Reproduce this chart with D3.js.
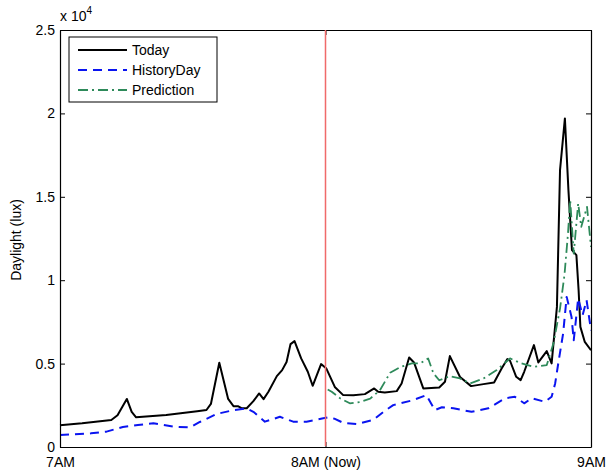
<!DOCTYPE html>
<html>
<head>
<meta charset="utf-8">
<script src="https://cdn.jsdelivr.net/npm/d3@7"></script>
<style>
  body { margin: 0; background: #fff; }
  svg { display: block; font-family: "Liberation Sans", Arial, sans-serif; }
</style>
</head>
<body>
<svg id="chart" width="608" height="472"></svg>
<script>
// minutes after 7AM, lux
const todayPts = [
    [0, 1300], [5, 1420], [11.6, 1620], [13, 1900], [15.1, 2880], [16.2, 2100], [17.2, 1780],
    [24, 1920], [31, 2150], [33.1, 2220], [34.1, 2580], [36, 5050], [38, 2880], [39.2, 2450],
    [40.2, 2450], [41.1, 2320], [42.2, 2320], [43.7, 2750], [45, 3210], [46, 2870], [47.1, 3310],
    [49, 4250], [50.2, 4610], [51.2, 5100], [52.1, 6170], [53, 6350], [54.5, 5310], [56, 4510],
    [57.1, 3670], [59, 4970], [60.2, 4700], [62.1, 3600], [64, 3110], [66.3, 3100], [68.9, 3170],
    [71, 3510], [71.9, 3310], [73.4, 3270], [76.1, 3350], [77.2, 3810], [78.9, 5370], [80, 5070],
    [82.1, 3510], [85.7, 3570], [87, 3910], [88.1, 5450], [90.4, 4200], [92.9, 3650], [95.7, 3770],
    [98.1, 3870], [99.8, 4710], [101.1, 5270], [101.7, 5170], [103.1, 4210], [104.1, 4010],
    [104.9, 4510], [107.1, 6110], [108.1, 5070], [110, 5750], [111.1, 5010], [112.3, 8400],
    [113, 16600], [114.1, 19700], [114.9, 15400], [115.7, 11800], [116.7, 11500], [117.2, 9400],
    [117.6, 7200], [118.6, 6300], [120, 5800]
];

const historyPts = [
    [0, 720], [7, 820], [10.5, 920], [14.2, 1200], [17.6, 1320], [21.1, 1420], [25.6, 1220],
    [29.4, 1170], [31.6, 1500], [35.4, 1980], [39.2, 2210], [42.2, 2320], [43.7, 2110], [46.3, 1520],
    [49.7, 1810], [52.7, 1520], [55.7, 1520], [59.5, 1720], [60.6, 1780], [62, 1700], [64, 1450],
    [67, 1380], [70.8, 1620], [73.1, 2110], [75.3, 2510], [79.8, 2810], [82.8, 3110], [84.7, 2210],
    [86.3, 2380], [88.9, 2320], [93, 2110], [96.8, 2320], [100.6, 2920], [102.8, 3010], [104.9, 2620],
    [106.6, 2920], [109.6, 2710], [111.1, 3010], [111.9, 3810], [112.6, 5010], [113.7, 6800],
    [114.5, 9000], [115.6, 7800], [116.1, 6400], [117.1, 8900], [118.1, 7900], [119, 8800], [120, 7000]
];

const predictionPts = [
    [60.5, 3450], [61.4, 3310], [63.3, 2920], [65.5, 2620], [67.8, 2700], [70.1, 2900], [72.3, 3400],
    [74.6, 4450], [77, 4800], [79.5, 5010], [81.4, 5010], [83.2, 5310], [84.4, 4410], [85.7, 4000],
    [88.1, 4250], [90.4, 4110], [92.7, 3810], [95.7, 4110], [98.7, 4610], [101.7, 5310], [104.3, 5010],
    [107, 4810], [110, 4910], [111.5, 6200], [113, 8300], [114, 10300], [114.8, 12800], [115.3, 14800],
    [116.1, 11600], [117.1, 14600], [117.8, 13200], [119.1, 14400], [120, 12000]
];

const xTicks = [0, 60, 120];
const xTickLabels = ["7AM", "8AM (Now)", "9AM"];
const yTicks = [0, 5000, 10000, 15000, 20000, 25000];
const yTickLabels = ["0", "0.5", "1", "1.5", "2", "2.5"];
const nowMinute = 60;
const seriesNames = ["Today", "HistoryDay", "Prediction"];

const svg = d3.select("#chart");
const margin = { top: 30, right: 17, bottom: 25, left: 60 };
const width = 608 - margin.left - margin.right;
const height = 472 - margin.top - margin.bottom;

const g = svg.append("g").attr("transform", `translate(${margin.left},${margin.top})`);

const x = d3.scaleLinear().domain([0, 120]).range([0, width]);
const y = d3.scaleLinear().domain([0, 25000]).range([height, 0]);

const styles = [
    { color: "#000000", dash: null, w: 2 },
    { color: "#0a14f0", dash: "9,6", w: 2 },
    { color: "#2e8a5a", dash: "10,4,2,4", w: 1.8 }
];

const line = d3.line().x(d => x(d[0])).y(d => y(d[1]));

[todayPts, historyPts, predictionPts].forEach((pts, i) => {
    g.append("path")
        .datum(pts)
        .attr("fill", "none")
        .attr("stroke", styles[i].color)
        .attr("stroke-width", styles[i].w)
        .attr("stroke-dasharray", styles[i].dash)
        .attr("stroke-linejoin", "round")
        .attr("d", line);
});

// === Axes (MATLAB style box, ticks inward) ===
const fmtY = d => yTickLabels[yTicks.indexOf(d)];
const fmtX = d => xTickLabels[xTicks.indexOf(d)];

const yAxis = g.append("g")
    .call(d3.axisLeft(y).tickValues(yTicks).tickFormat(fmtY).tickSizeInner(-5).tickSizeOuter(0).tickPadding(5));
const yAxisR = g.append("g").attr("transform", `translate(${width},0)`)
    .call(d3.axisRight(y).tickValues(yTicks).tickFormat("").tickSizeInner(-5).tickSizeOuter(0));
const xAxis = g.append("g").attr("transform", `translate(0,${height})`)
    .call(d3.axisBottom(x).tickValues(xTicks).tickFormat(fmtX).tickSizeInner(-5).tickSizeOuter(0).tickPadding(10));
const xAxisT = g.append("g")
    .call(d3.axisTop(x).tickValues(xTicks).tickFormat("").tickSizeInner(-5).tickSizeOuter(0));

[yAxis, yAxisR, xAxis, xAxisT].forEach(a => {
    a.selectAll(".domain").attr("stroke", "#000").attr("stroke-width", 1.2);
    a.selectAll(".tick line").attr("stroke", "#000");
    a.selectAll("text")
        .attr("fill", "#000")
        .style("font-size", "14px")
        .style("font-family", "'Liberation Sans', Arial, sans-serif");
});

// now marker, drawn over the top tick like the original
g.append("line")
    .attr("x1", x(nowMinute)).attr("x2", x(nowMinute))
    .attr("y1", 0).attr("y2", height - 1)
    .attr("stroke", "#f06a6a")
    .attr("stroke-width", 1.5);

// exponent label
const expo = svg.append("text")
    .attr("x", 60).attr("y", 21)
    .style("font-size", "14px")
    .attr("fill", "#000");
expo.append("tspan").text("x 10");
expo.append("tspan").attr("dy", -7).style("font-size", "10px").text("4");

// y label
svg.append("text")
    .attr("transform", "translate(21,240) rotate(-90)")
    .attr("text-anchor", "middle")
    .style("font-size", "14px")
    .attr("fill", "#000")
    .text("Daylight (lux)");

// === Legend ===
const leg = svg.append("g").attr("transform", "translate(69,37)");
leg.append("rect")
    .attr("width", 148).attr("height", 65)
    .attr("fill", "#fff")
    .attr("stroke", "#000")
    .attr("stroke-width", 1);

seriesNames.forEach((name, i) => {
    const yy = 13 + i * 20;
    leg.append("line")
        .attr("x1", 9).attr("x2", 58)
        .attr("y1", yy).attr("y2", yy)
        .attr("stroke", styles[i].color)
        .attr("stroke-width", styles[i].w)
        .attr("stroke-dasharray", styles[i].dash);
    leg.append("text")
        .attr("x", 63).attr("y", yy)
        .attr("dy", "0.35em")
        .style("font-size", "14px")
        .attr("fill", "#000")
        .text(name);
});
</script>
</body>
</html>
